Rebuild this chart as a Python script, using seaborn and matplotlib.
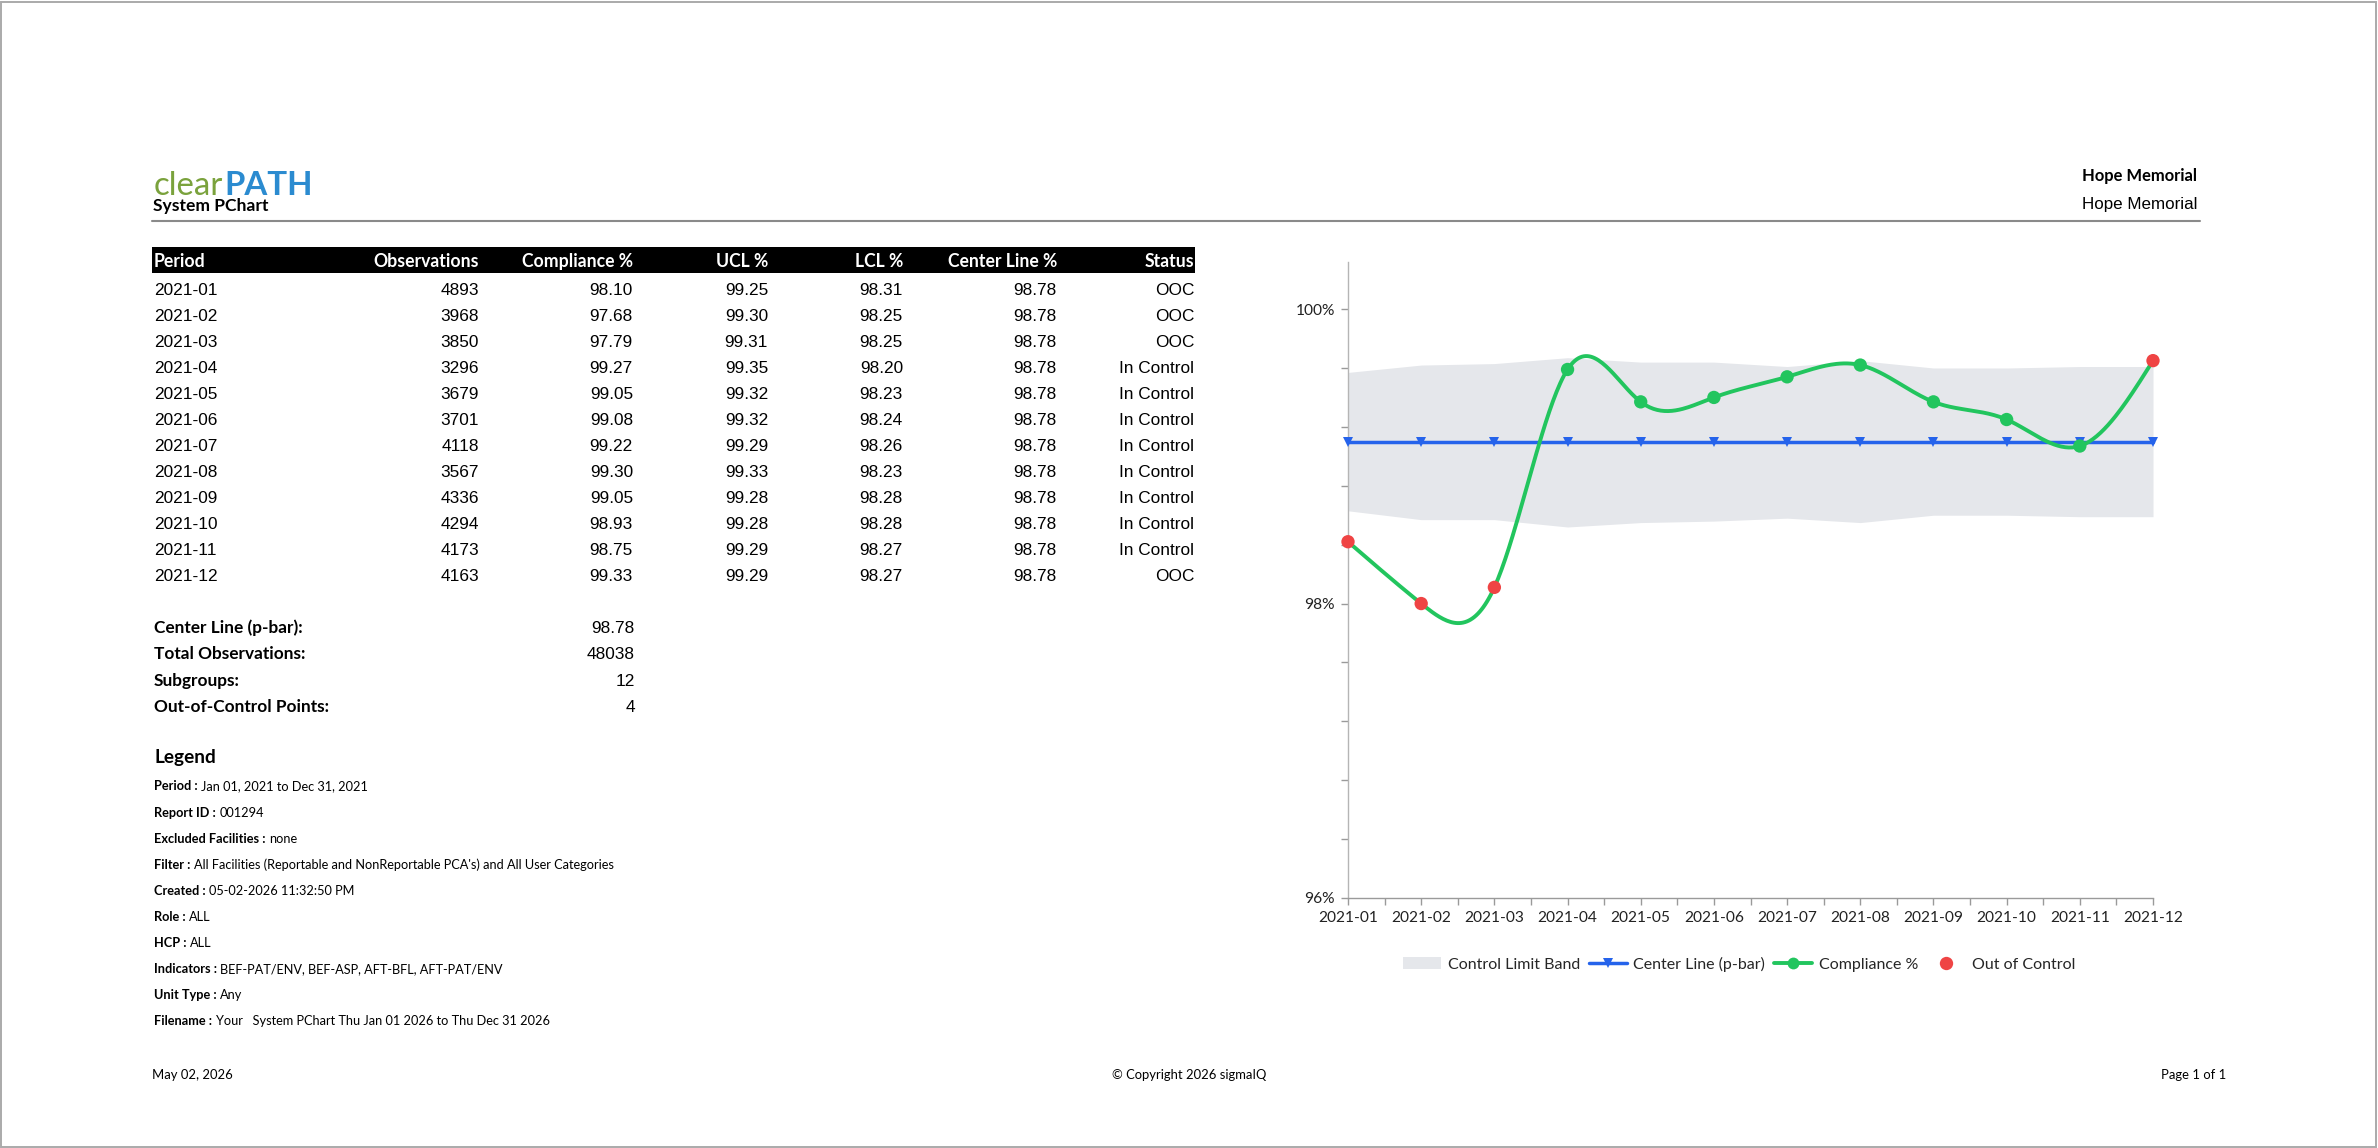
import numpy as np
import pandas as pd
import matplotlib
matplotlib.use("Agg")
import matplotlib.pyplot as plt
import seaborn as sns
from matplotlib.patches import Rectangle, Patch
from matplotlib.lines import Line2D

# ---------------- data ----------------
periods = ["2021-01", "2021-02", "2021-03", "2021-04", "2021-05", "2021-06",
           "2021-07", "2021-08", "2021-09", "2021-10", "2021-11", "2021-12"]
observations = [4893, 3968, 3850, 3296, 3679, 3701, 4118, 3567, 4336, 4294, 4173, 4163]
compliance = [98.10, 97.68, 97.79, 99.27, 99.05, 99.08, 99.22, 99.30, 99.05, 98.93, 98.75, 99.33]
ucl = [99.25, 99.30, 99.31, 99.35, 99.32, 99.32, 99.29, 99.33, 99.28, 99.28, 99.29, 99.29]
lcl = [98.31, 98.25, 98.25, 98.20, 98.23, 98.24, 98.26, 98.23, 98.28, 98.28, 98.27, 98.27]
center_line = 98.78
status = ["OOC", "OOC", "OOC", "In Control", "In Control", "In Control", "In Control",
          "In Control", "In Control", "In Control", "In Control", "OOC"]
table_headers = ["Period", "Observations", "Compliance %", "UCL %", "LCL %", "Center Line %", "Status"]

summary_labels = ["Center Line (p-bar):", "Total Observations:", "Subgroups:", "Out-of-Control Points:"]
summary_values = ["98.78", "48038", "12", "4"]

legend_keys = ["Period :", "Report ID :", "Excluded Facilities :", "Filter :", "Created :",
               "Role :", "HCP :", "Indicators :", "Unit Type :", "Filename :"]
legend_vals = ["Jan 01, 2021 to Dec 31, 2021", "001294", "none",
               "All Facilities (Reportable and NonReportable PCA's) and All User Categories",
               "05-02-2026 11:32:50 PM", "ALL", "ALL",
               "BEF-PAT/ENV, BEF-ASP, AFT-BFL, AFT-PAT/ENV", "Any",
               "Your   System PChart Thu Jan 01 2026 to Thu Dec 31 2026"]

y_axis_min, y_axis_max = 95.68, 100.0
y_label_values = [95.68, 97.68, 99.68]
y_labels = ["96%", "98%", "100%"]
y_minor_step = 0.4

series_labels = ["Control Limit Band", "Center Line (p-bar)", "Compliance %", "Out of Control"]

# ---------------- style ----------------
sns.set_theme(style="white")
LATO = ["Lato", "DejaVu Sans"]
ARIAL = ["Liberation Sans", "DejaVu Sans"]
plt.rcParams["font.family"] = LATO

GREEN = "#22c55e"
RED = "#ef4444"
BLUE = "#2563eb"
BAND = "#e5e7eb"

W, H, DPI = 2378, 1148, 100
PX = 72.0 / DPI
fig = plt.figure(figsize=(W / DPI, H / DPI), dpi=DPI)
fig.patch.set_facecolor("white")
renderer = fig.canvas.get_renderer()


def txt(x, y, s, px, family=LATO, weight="normal", ha="left", color="#000000"):
    return fig.text(x / W, 1 - y / H, s, fontsize=px * PX, family=family, weight=weight,
                    ha=ha, va="baseline", color=color)


def right_edge_px(t):
    bb = t.get_window_extent(renderer=renderer)
    return bb.x1


# border
fig.add_artist(Rectangle((1 / W, 1.5 / H), (W - 3.5) / W, (H - 3) / H, transform=fig.transFigure,
                         fill=False, edgecolor="#aaaaaa", lw=1.4))

# ---------------- header ----------------
t = txt(154, 195, "clear", 33, color="#7aa23c")
xe = right_edge_px(t)
txt(xe + 1, 195, "PATH", 33, weight="bold", color="#2b8bd0")
txt(153, 211, "System PChart", 17.5, weight="bold")
txt(2197, 181, "Hope Memorial", 16.5, weight="bold", ha="right")
txt(2197, 209, "Hope Memorial", 17, family=ARIAL, ha="right")
fig.add_artist(Line2D([152 / W, 2200 / W], [1 - 221 / H] * 2, transform=fig.transFigure,
                      color="#8a8a8a", lw=1.5))

# ---------------- table ----------------
fig.add_artist(Rectangle((152 / W, 1 - 273 / H), (1195 - 152) / W, 26 / H,
                         transform=fig.transFigure, facecolor="black", edgecolor="none"))
col_x = [154, 479, 633, 768, 903, 1057, 1194]
col_ha = ["left", "right", "right", "right", "right", "right", "right"]
for h, cx, ha in zip(table_headers, col_x, col_ha):
    txt(cx, 266.5, h, 17.6, weight="bold", ha=ha, color="white")

for i in range(len(periods)):
    row = [periods[i], str(observations[i]), f"{compliance[i]:.2f}", f"{ucl[i]:.2f}",
           f"{lcl[i]:.2f}", f"{center_line:.2f}", status[i]]
    yb = 295 + 26 * i
    for v, cx, ha in zip(row, col_x, col_ha):
        txt(cx, yb, v, 17.2, family=ARIAL, ha=ha)

# ---------------- summary ----------------
for k, (lab, val) in enumerate(zip(summary_labels, summary_values)):
    yb = 633 + 26.3 * k
    txt(154, yb, lab, 17.2, weight="bold")
    txt(635, yb, val, 17.2, family=ARIAL, ha="right")

txt(154, 763.5, "Legend", 19, weight="bold")
for k, (key, val) in enumerate(zip(legend_keys, legend_vals)):
    yb = 790.5 + 26.1 * k
    t = txt(154, yb, key, 12.8, weight="bold")
    xe = right_edge_px(t)
    txt(xe + 3.5, yb, val, 12.8)

# ---------------- footer ----------------
txt(152, 1079, "May 02, 2026", 13)
txt(1189, 1079, "\u00a9 Copyright 2026 sigmaIQ", 13, ha="center")
txt(2226, 1079, "Page 1 of 1", 13, ha="right")

# ---------------- chart ----------------
ax = fig.add_axes([1348 / W, 1 - 898 / H, (2153 - 1348) / W, (898 - 262) / H])
ax.set_facecolor("white")
xi = np.arange(len(periods))
df = pd.DataFrame({"idx": xi, "period": periods, "compliance": compliance,
                   "ucl": ucl, "lcl": lcl, "center": [center_line] * len(periods),
                   "status": status})

ax.fill_between(df["idx"], df["lcl"], df["ucl"], color=BAND, lw=0, zorder=1)

sns.lineplot(data=df, x="idx", y="center", ax=ax, color=BLUE, lw=2.5, marker="v",
             markersize=7.5, markeredgewidth=0, legend=False, zorder=3, clip_on=False)


def natural_spline(xv, yv, n=40):
    xv = np.asarray(xv, float)
    yv = np.asarray(yv, float)
    m = len(xv)
    h = np.diff(xv)
    A = np.zeros((m, m))
    b = np.zeros(m)
    A[0, 0] = A[-1, -1] = 1.0
    for i in range(1, m - 1):
        A[i, i - 1] = h[i - 1]
        A[i, i] = 2 * (h[i - 1] + h[i])
        A[i, i + 1] = h[i]
        b[i] = 6 * ((yv[i + 1] - yv[i]) / h[i] - (yv[i] - yv[i - 1]) / h[i - 1])
    M = np.linalg.solve(A, b)
    xs_all, ys_all = [], []
    for i in range(m - 1):
        tt = np.linspace(0, 1, n, endpoint=(i == m - 2))
        a = 1 - tt
        seg = (a * yv[i] + tt * yv[i + 1]
               + ((a ** 3 - a) * M[i] + (tt ** 3 - tt) * M[i + 1]) * h[i] ** 2 / 6)
        xs_all.append(xv[i] + tt * h[i])
        ys_all.append(seg)
    return np.concatenate(xs_all), np.concatenate(ys_all)


sx, sy = natural_spline(df["idx"], df["compliance"])
ax.plot(sx, sy, color=GREEN, lw=2.8, zorder=4, solid_capstyle="round", clip_on=False)

dot_s = 9.6 ** 2
sns.scatterplot(data=df[df["status"] == "In Control"], x="idx", y="compliance", ax=ax,
                color=GREEN, s=dot_s, edgecolor="none", linewidth=0, legend=False,
                zorder=5, clip_on=False)
sns.scatterplot(data=df[df["status"] == "OOC"], x="idx", y="compliance", ax=ax,
                color=RED, s=dot_s, edgecolor="none", linewidth=0, legend=False,
                zorder=6, clip_on=False)

ax.set_xlim(0, len(periods) - 1)
ax.set_ylim(y_axis_min, y_axis_max)
ax.set_xticks(xi)
ax.set_xticklabels(periods)
ax.set_xticks(np.arange(0.5, len(periods) - 1, 1.0), minor=True)
ax.set_yticks(y_label_values)
ax.set_yticklabels(y_labels)
ax.set_yticks(np.arange(y_axis_min, y_label_values[-1] + 0.01, y_minor_step), minor=True)
ax.set_xlabel("")
ax.set_ylabel("")
ax.grid(False)
for side in ["top", "right"]:
    ax.spines[side].set_visible(False)
ax.spines["left"].set_color("#b5b5b5")
ax.spines["bottom"].set_color("#9a9a9a")
ax.spines["left"].set_linewidth(1.0)
ax.spines["bottom"].set_linewidth(1.0)
ax.tick_params(axis="both", which="both", direction="out", length=7 * PX, width=1.0,
               color="#9a9a9a", left=True, bottom=True)
ax.tick_params(axis="x", which="major", pad=6 * PX, labelsize=15.5 * PX, labelcolor="#222222")
ax.tick_params(axis="y", which="major", pad=6 * PX, labelsize=15.5 * PX, labelcolor="#222222")
for lab in ax.get_xticklabels() + ax.get_yticklabels():
    lab.set_family(LATO)

handles = [Patch(facecolor=BAND, edgecolor="none"),
           Line2D([], [], color=BLUE, lw=2.5, marker="v", ms=7.5, mew=0),
           Line2D([], [], color=GREEN, lw=2.8, marker="o", ms=8.5, mew=0),
           Line2D([], [], color=RED, lw=0, marker="o", ms=9.6, mew=0)]
fig.legend(handles, series_labels, loc="center", bbox_to_anchor=(1739 / W, 1 - 964 / H),
           ncol=4, frameon=False, prop={"family": LATO, "size": 16 * PX},
           handlelength=2.4, handletextpad=0.4, columnspacing=0.55, borderaxespad=0)

fig.savefig("out.png", dpi=DPI, facecolor="white")
